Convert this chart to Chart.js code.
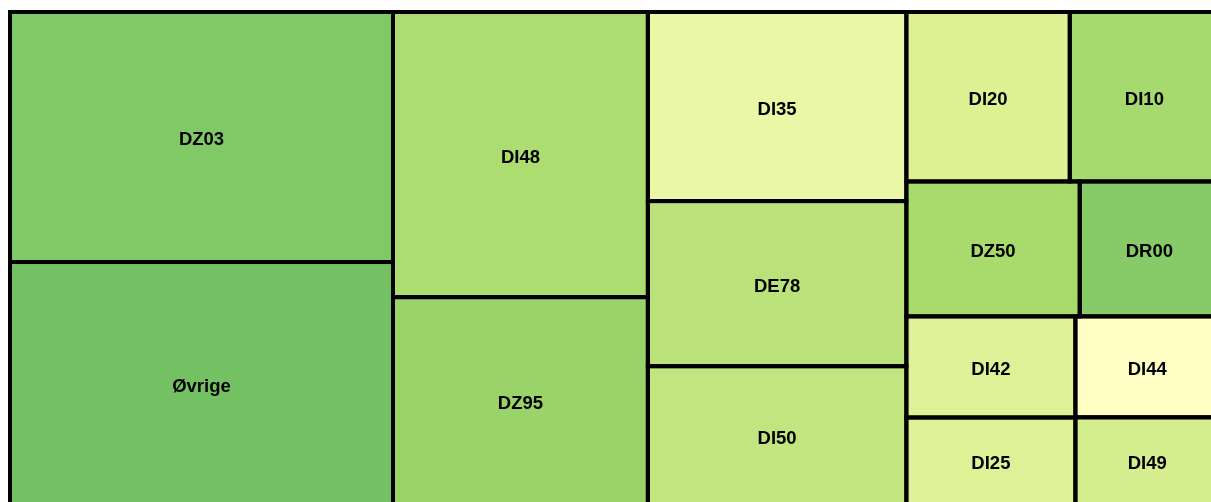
<!DOCTYPE html>
<html>
<head>
<meta charset="utf-8">
<script src="https://cdn.jsdelivr.net/npm/chart.js@4.4.0/dist/chart.umd.min.js"></script>
<style>
html,body{margin:0;padding:0;background:#ffffff;overflow:hidden;width:1211px;height:502px;}
#wrap{position:absolute;left:0;top:0;width:1232px;height:520px;}
</style>
</head>
<body>
<div id="wrap"><canvas id="c" width="1232" height="520"></canvas></div>
<script>
// ---- data (sorted descending, as in the reference) ----
const categories = ['DZ03','Øvrige','DI48','DZ95','DI35','DE78','DI50','DI20','DI10','DZ50','DR00','DI42','DI25','DI44','DI49'];
const values     = [958, 931, 727, 530, 489, 427, 359, 277, 253, 234, 188, 171, 148, 145, 126];

// ---- styles (kept separate from data) ----
const cellColors = ['#80C966','#74C163','#ADDC71','#99D36A','#EAF7A6','#BBE27A','#C2E580',
                    '#DEF192','#A6DA6E','#A8DB6C','#86CB67','#DFF196','#DFF196','#FEFEC5','#D4ED8F'];
const borderColor = '#000000';
const borderWidth = 4;
const labelFont = 'bold 18.5px "Liberation Sans", Arial, sans-serif';
const squarifyRatio = 1.2;

// squarified layout (d3-style) in pixel space
function squarify(vals, x0, y0, x1, y1, ratio) {
  const out = new Array(vals.length);
  const n = vals.length;
  let value = vals.reduce((a, b) => a + b, 0);
  let i0 = 0;
  while (i0 < n) {
    const dx = x1 - x0, dy = y1 - y0;
    let i1 = i0;
    let sum = vals[i1++], minV = sum, maxV = sum;
    const alpha = Math.max(dy / dx, dx / dy) / (value * ratio);
    let beta = sum * sum * alpha;
    let minRatio = Math.max(maxV / beta, beta / minV);
    for (; i1 < n; ++i1) {
      const v = vals[i1];
      sum += v;
      if (v < minV) minV = v;
      if (v > maxV) maxV = v;
      beta = sum * sum * alpha;
      const nr = Math.max(maxV / beta, beta / minV);
      if (nr > minRatio) { sum -= v; break; }
      minRatio = nr;
    }
    if (dx < dy) {
      const h = i1 >= n ? dy : dy * sum / value;
      let x = x0;
      for (let k = i0; k < i1; k++) {
        const w = dx * vals[k] / sum;
        out[k] = { x: x, y: y0, w: w, h: h };
        x += w;
      }
      y0 += h;
    } else {
      const w = i1 >= n ? dx : dx * sum / value;
      let y = y0;
      for (let k = i0; k < i1; k++) {
        const h = dy * vals[k] / sum;
        out[k] = { x: x0, y: y, w: w, h: h };
        y += h;
      }
      x0 += w;
    }
    value -= sum;
    i0 = i1;
  }
  return out;
}

const treemapPlugin = {
  id: 'treemapCells',
  afterDatasetsDraw(chart) {
    const xs = chart.scales.x, ys = chart.scales.y;
    const left = xs.getPixelForValue(xs.min), right = xs.getPixelForValue(xs.max);
    const top = ys.getPixelForValue(ys.max), bottom = ys.getPixelForValue(ys.min);
    const rects = squarify(values, left, top, right, bottom, squarifyRatio);
    const ctx = chart.ctx;
    ctx.save();
    rects.forEach((r, i) => {
      ctx.fillStyle = cellColors[i];
      ctx.fillRect(r.x, r.y, r.w, r.h);
    });
    ctx.strokeStyle = borderColor;
    ctx.lineWidth = borderWidth;
    ctx.lineJoin = 'miter';
    rects.forEach((r) => {
      ctx.strokeRect(r.x, r.y, r.w, r.h);
    });
    ctx.fillStyle = '#000000';
    ctx.font = labelFont;
    ctx.textAlign = 'center';
    ctx.textBaseline = 'alphabetic';
    rects.forEach((r, i) => {
      ctx.fillText(categories[i], r.x + r.w / 2, r.y + r.h / 2 + 8);
    });
    ctx.restore();
  }
};

new Chart(document.getElementById('c'), {
  type: 'scatter',
  data: { datasets: [{ label: 'Diagnoser', data: [], showLine: false }] },
  options: {
    responsive: false,
    animation: false,
    layout: { padding: { left: 10, top: 12, right: 13, bottom: 15 } },
    plugins: { legend: { display: false }, tooltip: { enabled: false }, title: { display: false } },
    scales: {
      x: { type: 'linear', min: 0, max: 100, display: false },
      y: { type: 'linear', min: 0, max: 100, display: false }
    }
  },
  plugins: [treemapPlugin]
});
</script>
</body>
</html>
